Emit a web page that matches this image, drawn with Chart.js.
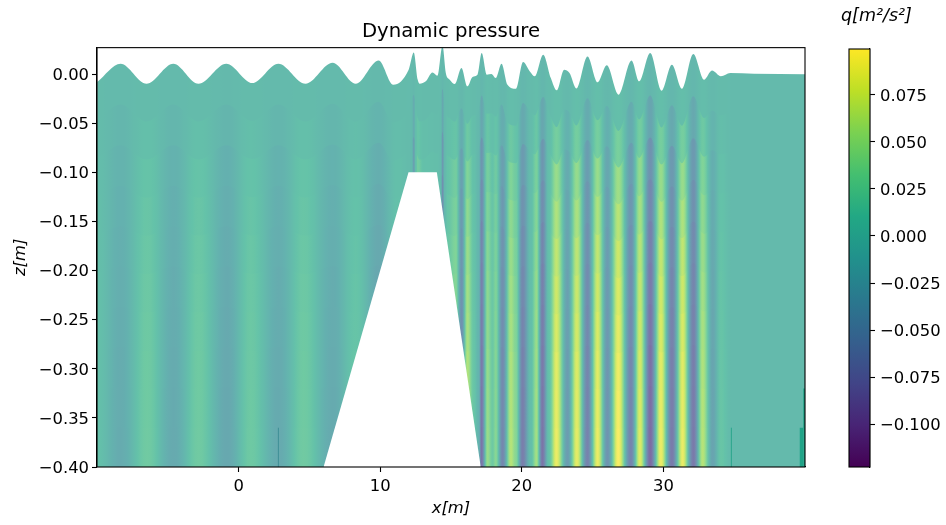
<!DOCTYPE html>
<html>
<head>
<meta charset="utf-8">
<title>Dynamic pressure</title>
<script src="https://cdn.jsdelivr.net/npm/chart.js@4"></script>
<style>
  html, body { margin: 0; background: #fff; overflow: hidden; }
  canvas { position: absolute; top: 0; }
  #fieldChart { left: 0; }
  #barChart { left: 807px; }
</style>
</head>
<body>
<canvas id="fieldChart" width="902" height="525"></canvas>
<canvas id="barChart" width="139" height="525"></canvas>
<script>
// free surface
const surfaceX = [-9.99, -8.34, -6.50, -4.61, -2.83, -0.87, 0.97, 2.81, 4.73, 6.64, 8.27, 9.89, 10.93, 12.01, 12.37, 12.65, 12.79, 13.22, 13.69, 14.04, 14.40, 14.63, 14.91, 15.27, 15.74, 16.16, 16.52, 16.87, 17.17, 17.53, 17.86, 18.16, 18.57, 18.99, 19.58, 20.09, 20.57, 20.92, 21.51, 22.05, 22.47, 22.99, 23.37, 23.86, 24.64, 25.35, 26.00, 26.83, 27.75, 28.29, 29.07, 29.87, 30.60, 31.31, 32.11, 32.88, 33.43, 34.06, 34.72, 36.40, 40.00];
const surfaceZ = [-0.008, 0.0107, -0.0097, 0.0107, -0.0097, 0.0107, -0.009, 0.0107, -0.0097, 0.0117, -0.0097, 0.014, -0.0107, 0.0046, 0.022, -0.0056, -0.0097, -0.0073, 0.0018, -0.0015, 0.029, 0.0015, -0.0056, -0.01, 0.0063, -0.0124, -0.0028, -0.0005, 0.0216, -0.0005, 0.0002, -0.0039, 0.0107, -0.0107, -0.0148, 0.0124, 0.0028, -0.0022, 0.0198, -0.0039, -0.0165, 0.0046, 0.0012, -0.0145, 0.0181, -0.0083, 0.009, -0.0209, 0.014, -0.0073, 0.0216, -0.0168, 0.0097, -0.0148, 0.0206, -0.0056, 0.0036, -0.0022, 0.0012, 0.0005, 0];

// dynamic pressure near the bed
const pressureX = [-10, -8.34, -6.45, -4.59, -2.83, -0.8, 0.85, 2.83, 4.59, 6.64, 8.27, 9.89, 11.24, 12.01, 12.23, 12.37, 12.51, 12.65, 13.07, 14.06, 14.28, 14.4, 14.56, 14.77, 15.34, 15.74, 16.16, 16.61, 16.96, 17.15, 17.58, 17.93, 18.16, 18.64, 19.22, 19.58, 20.05, 20.64, 21.04, 21.45, 21.91, 22.45, 23.23, 23.89, 24.64, 25.35, 26.05, 26.81, 27.7, 28.34, 29.07, 29.82, 30.6, 31.36, 32.12, 32.77, 33.48, 34.06, 34.77, 40];
const pressureQ = [0.008, -0.02, 0.022, -0.022, 0.022, -0.025, 0.02, -0.022, 0.022, -0.022, 0.015, -0.03, 0.012, 0.002, -0.005, -0.065, 0.01, 0.045, 0.015, 0.008, 0, -0.08, -0.005, 0.02, 0.045, -0.06, 0.065, 0.015, -0.01, -0.085, 0.05, 0.02, 0.04, -0.065, 0.065, 0.04, -0.075, 0.005, 0.055, -0.085, 0.01, 0.09, -0.04, 0.088, -0.07, 0.09, -0.05, 0.098, -0.07, 0.085, -0.095, 0.092, -0.08, 0.09, -0.08, 0.065, -0.03, 0.015, 0, 0];

// mesh layers: depth of each interface, how much of the surface wave it carries, q strength of the layer below it
const layerDepth = [0, -0.04, -0.08, -0.12, -0.16, -0.2, -0.24, -0.28, -0.32, -0.36];
const layerWave = [1, 0.85, 0.72, 0.6, 0.48, 0.38, 0.28, 0.2, 0.12, 0.05];
const layerGain = [0.06, 0.3, 0.55, 0.68, 0.78, 0.85, 0.9, 0.95, 0.98, 1];

// submerged bar
const bedX = [6, 12, 14, 17.1];
const bedZ = [-0.4, -0.1, -0.1, -0.4];

// thin stubs on the bottom edge
const stubX = [2.81, 34.8, 39.75, 39.95];
const stubTop = [-0.36, -0.36, -0.36, -0.32];

const xTicks = [0, 10, 20, 30];
const zTicks = [0, -0.05, -0.1, -0.15, -0.2, -0.25, -0.3, -0.35, -0.4];
const barTicks = [0.075, 0.05, 0.025, 0, -0.025, -0.05, -0.075, -0.1];
const barMin = -0.1228;
const barMax = 0.0994;

const viridis = [[68, 1, 84], [72, 36, 117], [65, 68, 135], [53, 95, 141], [42, 120, 142], [33, 145, 140], [34, 168, 132], [68, 191, 112], [122, 209, 81], [189, 223, 38], [253, 231, 37]];

// viridis lookup, washed towards white like the semi transparent mesh
function qColor(q, alpha) {
  const t = Math.min(1, Math.max(0, (q - barMin) / (barMax - barMin))) * (viridis.length - 1);
  const i = Math.min(viridis.length - 2, Math.floor(t));
  const c = viridis[i].map((v, k) => Math.round((v + (viridis[i + 1][k] - v) * (t - i)) * alpha + 255 * (1 - alpha)));
  return `rgb(${c[0]},${c[1]},${c[2]})`;
}

// horizontal gradient for one mesh layer, positioned by the x scale
function layerFill(k) {
  return ctx => {
    const chart = ctx.chart;
    if (!chart.chartArea) return "transparent";
    const sx = chart.scales.x;
    const g = chart.ctx.createLinearGradient(sx.left, 0, sx.right, 0);
    const steps = 8;
    for (let i = 0; i < pressureX.length - 1; i++) {
      for (let s = 0; s <= steps; s++) {
        const f = s / steps;
        const ease = (1 - Math.cos(Math.PI * f)) / 2;
        const x = pressureX[i] + (pressureX[i + 1] - pressureX[i]) * f;
        const q = pressureQ[i] + (pressureQ[i + 1] - pressureQ[i]) * ease;
        const off = (sx.getPixelForValue(x) - sx.left) / (sx.right - sx.left);
        g.addColorStop(Math.min(1, Math.max(0, off)), qColor(q * layerGain[k], 0.7));
      }
    }
    return g;
  };
}

const frame = {
  id: "frame",
  afterDraw(chart) {
    const a = chart.chartArea, c = chart.ctx;
    c.save();
    c.strokeStyle = "#000";
    c.lineWidth = 1.1;
    c.strokeRect(a.left, a.top, a.right - a.left, a.bottom - a.top);
    c.restore();
  }
};

// each layer fills down to the bed and the next one paints over it, so no seams
const layerSets = layerDepth.map((depth, k) => ({
  label: "layer " + k,
  yAxisID: "y",
  data: surfaceX.map((x, i) => ({ x: x, y: depth + layerWave[k] * surfaceZ[i] })),
  borderWidth: 0,
  pointRadius: 0,
  cubicInterpolationMode: "monotone",
  fill: { value: -0.4 },
  backgroundColor: layerFill(k),
  order: 30 - k
}));

const bedSet = {
  label: "bed",
  yAxisID: "y",
  data: bedX.map((x, i) => ({ x: x, y: bedZ[i] })),
  borderWidth: 0,
  pointRadius: 0,
  fill: { value: -0.4 },
  backgroundColor: "#fff",
  order: 2
};

const stubWidths = [1, 1, 3.4, 2];
const stubColors = ["#3f8f97", "#2aa58c", "#20a387", "#20a387"];
const stubSets = stubX.map((x, i) => ({
  label: "stub " + i,
  yAxisID: "y",
  data: [{ x: x, y: -0.4 }, { x: x, y: stubTop[i] }],
  borderWidth: stubWidths[i],
  borderColor: stubColors[i],
  pointRadius: 0,
  fill: false,
  order: 1
}));

const tickFont = { family: "DejaVu Sans", size: 16.4 };
const minus = s => s.replace("-", "\u2212");

new Chart(document.getElementById("fieldChart"), {
  type: "line",
  data: { datasets: layerSets.concat([bedSet], stubSets) },
  plugins: [frame],
  options: {
    responsive: false,
    animation: false,
    plugins: {
      legend: { display: false },
      tooltip: { enabled: false },
      title: {
        display: true,
        text: "Dynamic pressure",
        color: "#000",
        font: { family: "DejaVu Sans", size: 19.7, weight: "normal" },
        padding: { top: 20, bottom: 4 }
      }
    },
    scales: {
      x: {
        type: "linear",
        min: -10,
        max: 40,
        afterFit: s => { s.height = 58; },
        afterBuildTicks: s => { s.ticks = xTicks.map(v => ({ value: v })); },
        grid: { drawOnChartArea: false, tickLength: 5, tickColor: "#000", tickWidth: 1.1 },
        border: { color: "#000", width: 1.1 },
        title: { display: true, text: "x[m]", color: "#000", font: { family: "DejaVu Sans", size: 16.4, style: "italic" }, padding: { top: 0, bottom: 6 } },
        ticks: { color: "#000", font: tickFont, padding: 5, maxRotation: 0, callback: v => minus(String(v)) }
      },
      y: {
        type: "linear",
        min: -0.4,
        max: 0.027,
        afterFit: s => { s.width = 97; },
        afterBuildTicks: s => { s.ticks = zTicks.map(v => ({ value: v })); },
        grid: { drawOnChartArea: false, tickLength: 5, tickColor: "#000", tickWidth: 1.1 },
        border: { color: "#000", width: 1.1 },
        title: { display: true, text: "z[m]", color: "#000", font: { family: "DejaVu Sans", size: 16.4, style: "italic" }, padding: { top: 11, bottom: 0 } },
        ticks: { color: "#000", font: tickFont, padding: 3, labelOffset: 1.5, callback: v => minus(v.toFixed(2)) }
      },
      // empty right hand margin, keeps the title centred over the plot
      pad: {
        position: "right",
        afterFit: s => { s.width = 97; },
        ticks: { display: false },
        grid: { display: false },
        border: { display: false }
      }
    }
  }
});

// colour bar
new Chart(document.getElementById("barChart"), {
  type: "bar",
  data: {
    labels: ["q"],
    datasets: [{
      label: "q",
      yAxisID: "y",
      data: [[barMin, barMax]],
      barPercentage: 1,
      categoryPercentage: 1,
      backgroundColor: ctx => {
        const chart = ctx.chart;
        if (!chart.chartArea) return "transparent";
        const sy = chart.scales.y;
        const g = chart.ctx.createLinearGradient(0, sy.bottom, 0, sy.top);
        viridis.forEach((c, i) => g.addColorStop(i / (viridis.length - 1), `rgb(${c[0]},${c[1]},${c[2]})`));
        return g;
      }
    }]
  },
  plugins: [frame],
  options: {
    responsive: false,
    animation: false,
    layout: { padding: { left: 34, right: 0, top: 0, bottom: 58 } },
    plugins: {
      legend: { display: false },
      tooltip: { enabled: false },
      title: {
        display: true,
        text: "q[m\u00b2/s\u00b2]",
        align: "start",
        color: "#000",
        font: { family: "DejaVu Sans", size: 17.5, style: "italic", weight: "normal" },
        padding: { top: 6, bottom: 22 }
      }
    },
    scales: {
      x: { display: false },
      pad: {
        position: "left",
        afterFit: s => { s.width = 8; },
        ticks: { display: false },
        grid: { display: false },
        border: { display: false }
      },
      y: {
        type: "linear",
        position: "right",
        min: barMin,
        max: barMax,
        afterFit: s => { s.width = 76; },
        afterBuildTicks: s => { s.ticks = barTicks.map(v => ({ value: v })); },
        grid: { drawOnChartArea: false, tickLength: 5, tickColor: "#000", tickWidth: 1.1 },
        border: { color: "#000", width: 1.1 },
        ticks: { color: "#000", font: tickFont, padding: 5, labelOffset: 1.5, callback: v => minus(v.toFixed(3)) }
      }
    }
  }
});
</script>
</body>
</html>
